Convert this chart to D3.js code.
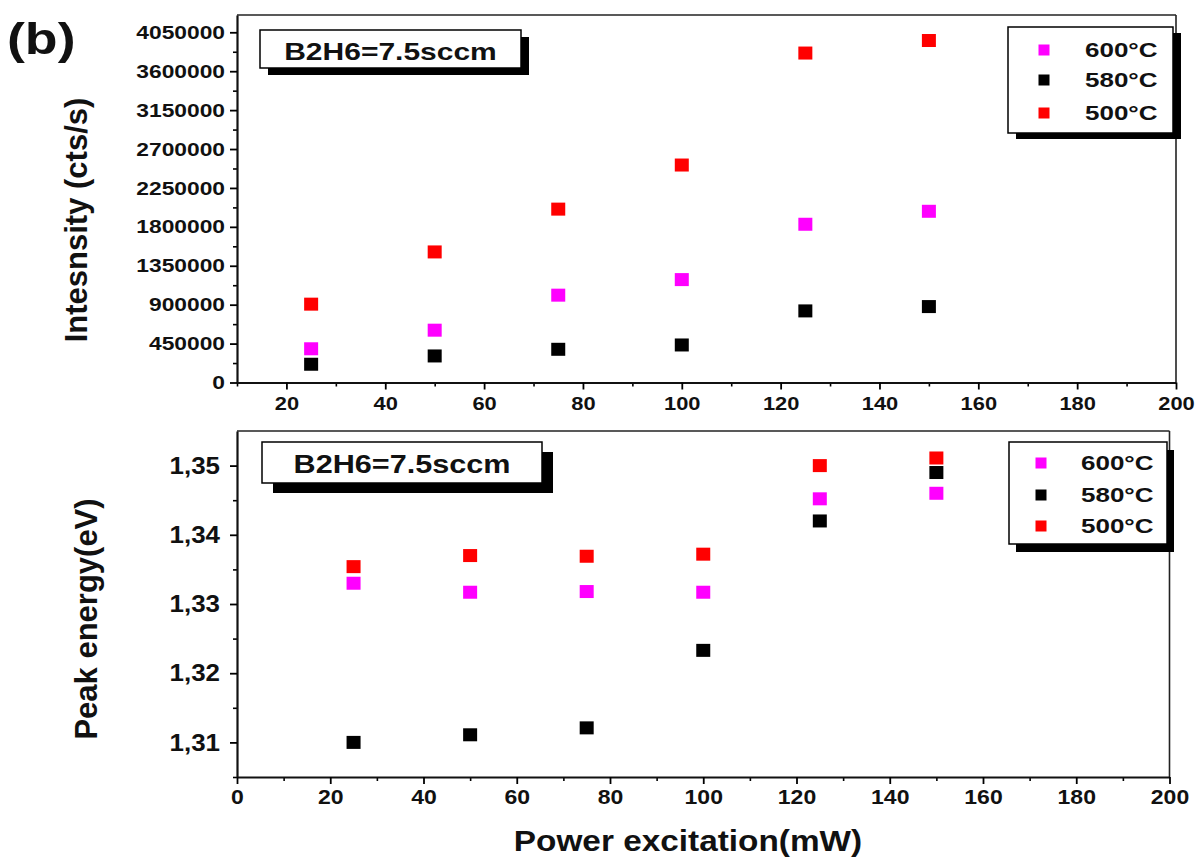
<!DOCTYPE html>
<html><head><meta charset="utf-8">
<script src="https://cdn.jsdelivr.net/npm/d3@7"></script>
<style>
body{margin:0;background:#fff;}
svg{display:block;font-family:"Liberation Sans",Arial,sans-serif;font-weight:bold;}
</style></head>
<body><svg id="c" width="1196" height="858"></svg>
<script>
// ---- data ----
const power = [25, 50, 75, 100, 125, 150];
const seriesNames = ["600°C", "580°C", "500°C"];
const seriesColors = ["#ff00ff", "#000000", "#ff0000"];
const intensity600 = [390000, 605000, 1010000, 1190000, 1830000, 1980000];
const intensity580 = [211000, 307000, 384000, 434000, 828000, 878000];
const intensity500 = [906000, 1510000, 2005000, 2515000, 3810000, 3955000];
const energy600 = [1.3330, 1.3317, 1.3318, 1.3317, 1.3452, 1.3460];
const energy580 = [1.3100, 1.3111, 1.3121, 1.3233, 1.3420, 1.3490];
const energy500 = [1.3354, 1.3370, 1.3369, 1.3372, 1.3500, 1.3511];
const topYTicks = d3.range(0, 4050001, 450000);
const topYMinor = d3.range(225000, 4250000, 450000);
const topXTicks = d3.range(20, 201, 20);
const topXMinor = d3.range(10, 200, 20);
const botXTicks = d3.range(0, 201, 20);
const botXMinor = d3.range(10, 200, 20);
const botYTicks = [1.31, 1.32, 1.33, 1.34, 1.35];
const botYMinor = [1.305, 1.315, 1.325, 1.335, 1.345];
const boxLabel = "B2H6=7.5sccm";

const svg = d3.select("#c");
svg.append("rect").attr("width",1196).attr("height",858).attr("fill","#fff");

function stretch(sel, sx){
  sel.each(function(){
    const t = d3.select(this);
    const x = +(t.attr("x")||0);
    t.attr("transform", `translate(${x*(1-sx)},0) scale(${sx},1)`);
  });
}

function panel(opt){
  const g = svg.append("g");
  const x = d3.scaleLinear().domain(opt.xd).range(opt.xr);
  const y = d3.scaleLinear().domain(opt.yd).range(opt.yr);
  // frame top/right
  g.append("line").attr("x1",opt.xr[0]).attr("x2",opt.xr[1]).attr("y1",opt.yr[1]).attr("y2",opt.yr[1]).attr("stroke","#222").attr("stroke-width",1.6);
  g.append("line").attr("x1",opt.xr[1]).attr("x2",opt.xr[1]).attr("y1",opt.yr[0]).attr("y2",opt.yr[1]).attr("stroke","#222").attr("stroke-width",1.6);
  // minor ticks
  g.append("g").attr("transform",`translate(0,${opt.yr[0]})`)
    .call(d3.axisBottom(x).tickValues(opt.xMinor).tickSize(4).tickSizeOuter(0).tickFormat(""))
    .call(a=>a.select(".domain").remove()).selectAll("line").attr("stroke-width",1.6);
  g.append("g").attr("transform",`translate(${opt.xr[0]},0)`)
    .call(d3.axisLeft(y).tickValues(opt.yMinor).tickSize(4).tickSizeOuter(0).tickFormat(""))
    .call(a=>a.select(".domain").remove()).selectAll("line").attr("stroke-width",1.6);
  // major axes
  const ax = g.append("g").attr("transform",`translate(0,${opt.yr[0]})`)
    .call(d3.axisBottom(x).tickValues(opt.xTicks).tickSize(7).tickSizeOuter(0).tickPadding(opt.xPad));
  ax.select(".domain").attr("stroke-width",2.2).attr("stroke","#111");
  ax.selectAll("line").attr("stroke-width",1.8);
  ax.selectAll("text").attr("font-size",opt.xFont).attr("fill","#111").style("font-weight","bold");
  stretch(ax.selectAll("text"), opt.xSx);
  const ay = g.append("g").attr("transform",`translate(${opt.xr[0]},0)`)
    .call(d3.axisLeft(y).tickValues(opt.yTicks).tickSize(7).tickSizeOuter(0).tickPadding(opt.yPad).tickFormat(opt.yFmt));
  ay.select(".domain").attr("stroke-width",2.2).attr("stroke","#111");
  ay.selectAll("line").attr("stroke-width",1.8);
  ay.selectAll("text").attr("font-size",opt.yFont).attr("fill","#111").style("font-weight","bold");
  stretch(ay.selectAll("text"), opt.ySx);
  // label box
  const b = opt.box;
  g.append("rect").attr("x",b.x+b.sdx).attr("y",b.y+b.sdy).attr("width",b.w).attr("height",b.h).attr("fill","#000");
  g.append("rect").attr("x",b.x).attr("y",b.y).attr("width",b.w).attr("height",b.h).attr("fill","#fff").attr("stroke","#000").attr("stroke-width",1.5);
  const bt = g.append("text").attr("x",b.x+b.w/2).attr("y",b.base).attr("text-anchor","middle")
    .attr("font-size",b.font).attr("fill","#111").text(boxLabel);
  stretch(bt, b.sx);
  // legend
  const L = opt.leg;
  g.append("rect").attr("x",L.x+L.sdx).attr("y",L.y+L.sdy).attr("width",L.w).attr("height",L.h).attr("fill","#000");
  g.append("rect").attr("x",L.x).attr("y",L.y).attr("width",L.w).attr("height",L.h).attr("fill","#fff").attr("stroke","#000").attr("stroke-width",1.5);
  seriesNames.forEach((n,i)=>{
    g.append("rect").attr("x",L.mx-5.5).attr("y",L.rows[i]-5.5).attr("width",11).attr("height",11).attr("fill",seriesColors[i]);
    const t = g.append("text").attr("x",L.tx).attr("y",L.rows[i]+7).attr("font-size",L.font).attr("fill","#111").text(n);
    stretch(t, L.sx);
  });
  // points
  opt.series.forEach((vals,i)=>{
    g.append("g").selectAll("rect").data(vals).join("rect")
      .attr("x",(d,j)=>x(power[j])-7).attr("y",d=>y(d)-6.5)
      .attr("width",14).attr("height",13).attr("fill",seriesColors[i]);
  });
  return g;
}

panel({
  xd:[10,200], xr:[237,1176], yd:[0,4250000], yr:[382.5,15],
  xTicks:topXTicks, xMinor:topXMinor, yTicks:topYTicks, yMinor:topYMinor,
  yFmt:d3.format("d"), xFont:19, xSx:1.15, yFont:19, ySx:1.2, xPad:7, yPad:5,
  box:{x:260,y:30,w:261,h:38,sdx:8,sdy:7,base:60,font:24,sx:1.25},
  leg:{x:1008,y:27,w:165,h:106,sdx:8,sdy:6,mx:1044,tx:1085,rows:[50,80,113],font:20,sx:1.3},
  series:[intensity600,intensity580,intensity500]
});
panel({
  xd:[0,200], xr:[237,1169.5], yd:[1.305,1.355], yr:[777,431],
  xTicks:botXTicks, xMinor:botXMinor, yTicks:botYTicks, yMinor:botYMinor,
  yFmt:d=>d3.format(".2f")(d).replace(".",","), xFont:20, xSx:1.15, yFont:24, ySx:1.08, xPad:6, yPad:10,
  box:{x:262,y:442,w:280,h:41,sdx:11,sdy:10,base:473,font:25.5,sx:1.2},
  leg:{x:1009,y:442,w:158,h:102,sdx:7,sdy:8,mx:1041,tx:1081,rows:[463,495,526],font:20,sx:1.3},
  series:[energy600,energy580,energy500]
});

// titles
const tb = svg.append("text").attr("x",7).attr("y",54).attr("font-size",44).attr("fill","#111").text("(b)");
stretch(tb,1.22);
svg.append("text").attr("transform","translate(87,220) rotate(-90)").attr("text-anchor","middle")
  .attr("font-size",31).attr("fill","#111").text("Intesnsity (cts/s)");
svg.append("text").attr("transform","translate(97,619) rotate(-90)").attr("text-anchor","middle")
  .attr("font-size",31).attr("fill","#111").text("Peak energy(eV)");
const xt = svg.append("text").attr("x",688).attr("y",851).attr("text-anchor","middle").attr("font-size",29).attr("fill","#111").text("Power excitation(mW)");
stretch(xt,1.15);
</script></body></html>
